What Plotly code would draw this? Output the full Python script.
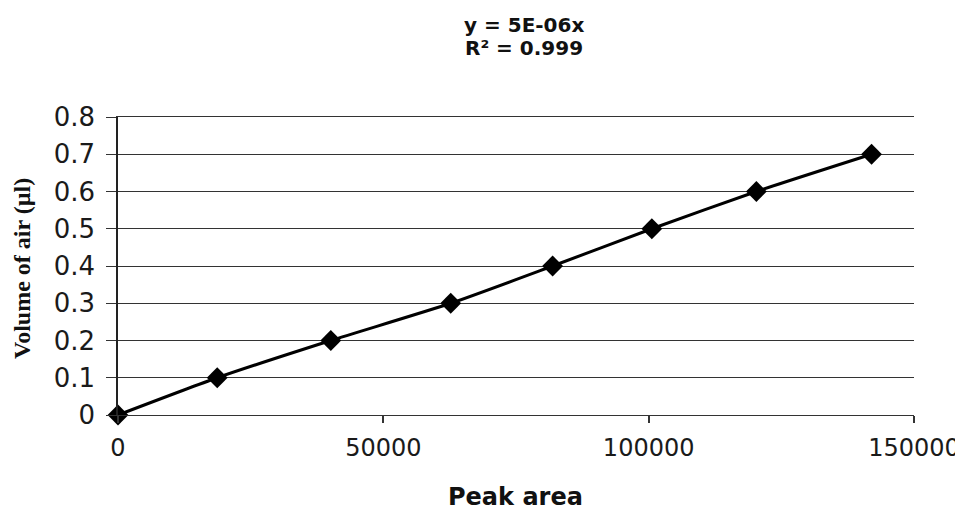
import plotly.graph_objects as go

peak_area = [0, 18700, 40100, 62700, 81900, 100600, 120300, 142000]
volume_air = [0.0, 0.1, 0.2, 0.3, 0.4, 0.5, 0.6, 0.7]
x_ticks = [0, 50000, 100000, 150000]
y_ticks = [0, 0.1, 0.2, 0.3, 0.4, 0.5, 0.6, 0.7, 0.8]

# page body has an 8px default margin, so the figure starts 8px in from the top-left
OFF = 8

fig = go.Figure()
fig.add_trace(go.Scatter(
    x=peak_area, y=volume_air, mode="lines+markers",
    line=dict(color="black", width=3, shape="spline", smoothing=0.6),
    marker=dict(symbol="diamond", size=16, color="black"),
    showlegend=False, cliponaxis=False,
))

fig.update_layout(
    width=963 - OFF, height=511 - OFF,
    margin=dict(l=118 - OFF, r=49, t=117 - OFF, b=96),
    paper_bgcolor="white", plot_bgcolor="white",
    font=dict(family="DejaVu Sans", color="#1a1a1a"),
    xaxis=dict(
        range=[0, 150000], tickvals=x_ticks, ticktext=[str(v) for v in x_ticks],
        showgrid=False, zeroline=False, showline=True, linecolor="#333", linewidth=1.3,
        mirror=True, automargin=False, ticklabeloverflow="allow",
        ticks="outside", ticklen=7, tickcolor="#333", tickwidth=1.5,
        ticklabelstandoff=4,
        tickfont=dict(size=24, family="DejaVu Sans", color="#1a1a1a"),
    ),
    yaxis=dict(
        range=[0, 0.8], tickvals=y_ticks, ticktext=["0"] + [f"{v:.1f}" for v in y_ticks[1:]],
        showgrid=True, gridcolor="#333", gridwidth=1.3, automargin=False,
        zeroline=False, showline=True, linecolor="#222", linewidth=1.5,
        ticks="outside", ticklen=10, tickcolor="#333", tickwidth=1.3,
        ticklabelstandoff=6,
        tickfont=dict(size=26, family="DejaVu Sans", color="#1a1a1a"),
    ),
    annotations=[
        dict(text="<b>y = 5E-06x</b>", xref="paper", yref="paper", x=(524 - 118) / 796, y=(415 - 25) / 298,
             showarrow=False, xanchor="center", yanchor="middle",
             font=dict(size=20, family="DejaVu Sans", color="#111")),
        dict(text="<b>R² = 0.999</b>", xref="paper", yref="paper", x=(524 - 118) / 796, y=(415 - 48) / 298,
             showarrow=False, xanchor="center", yanchor="middle",
             font=dict(size=20, family="DejaVu Sans", color="#111")),
        dict(text="<b>Peak area</b>", xref="paper", yref="paper", x=(515 - 118) / 796, y=(415 - 497) / 298,
             showarrow=False, xanchor="center", yanchor="middle",
             font=dict(size=24, family="DejaVu Sans", color="#111")),
        dict(text="<b>Volume of air (µl)</b>", xref="paper", yref="paper",
             x=(22 - 118) / 796, y=(415 - 269) / 298, textangle=-90,
             showarrow=False, xanchor="center", yanchor="middle",
             font=dict(size=24, family="Liberation Serif", color="#111")),
    ],
)

fig.write_html("out.html")
